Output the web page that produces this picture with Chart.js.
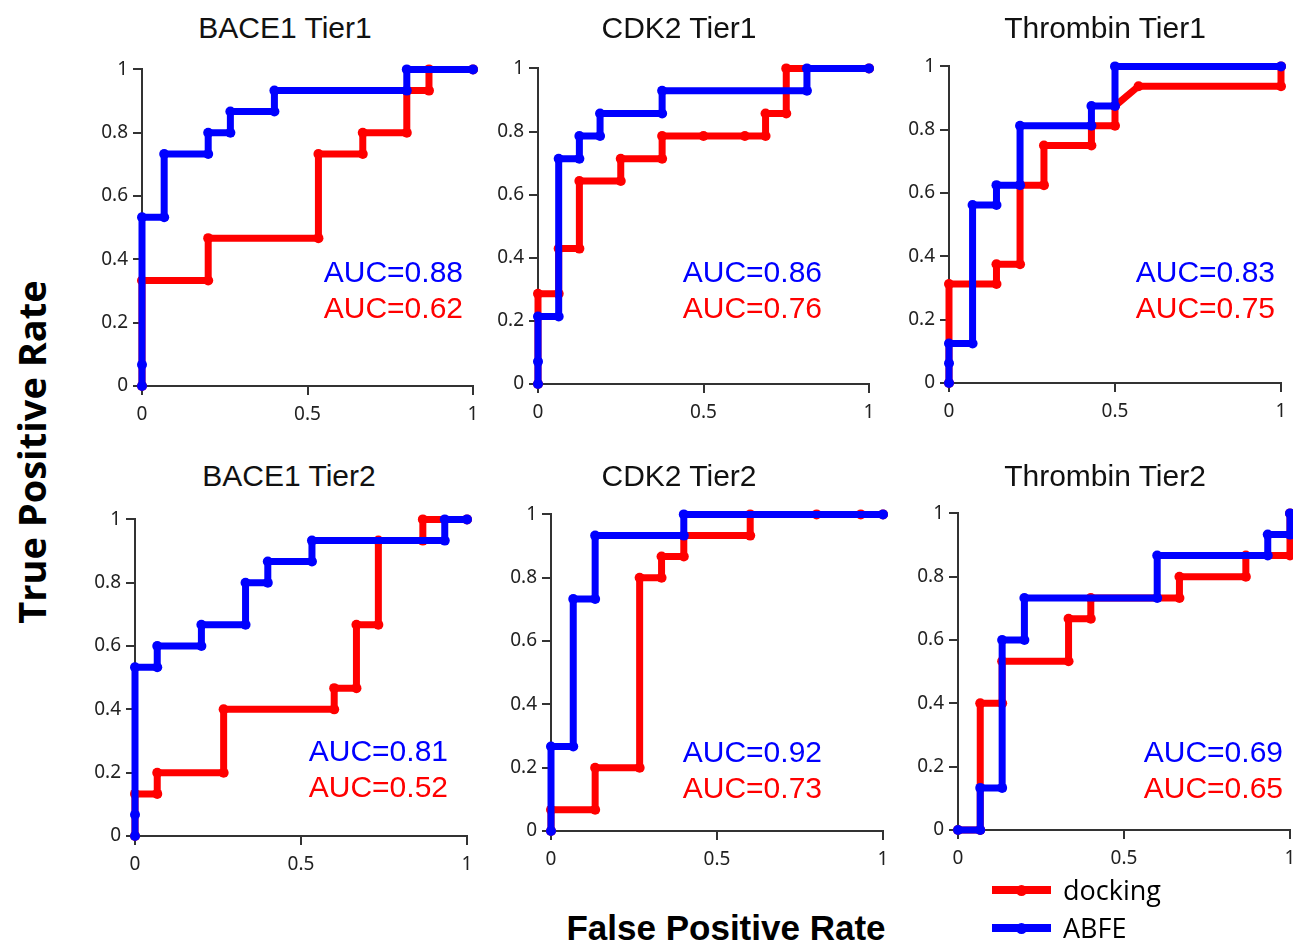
<!DOCTYPE html>
<html>
<head>
<meta charset="utf-8">
<script src="https://cdn.jsdelivr.net/npm/chart.js@4.4.0/dist/chart.umd.min.js"></script>
<style>
  body { margin: 0; background: #fff; overflow: hidden; }
  #page { position: relative; width: 1293px; height: 943px; overflow: hidden; }
  .panel { position: absolute; }
  .title { position: absolute; width: 300px; text-align: center; font: 30px/34px "Liberation Sans", Arial, sans-serif; color: #111; }
  .ytitle { position: absolute; width: 500px; height: 46px; text-align: center; font: bold 38px/46px "Open Sans", sans-serif; color: #000; transform: rotate(-90deg); }
  .xtitle { position: absolute; width: 500px; text-align: center; font: bold 35px/38px "Liberation Sans", Arial, sans-serif; color: #000; }
  .leg-line { position: absolute; height: 8px; width: 59px; }
  .leg-dot { position: absolute; width: 11px; height: 11px; border-radius: 50%; }
  .leg-text { position: absolute; font: 27px/27px "Open Sans", sans-serif; color: #000; }
</style>
</head>
<body>
<div id="page"></div>
<script>
// titres et AUC
const panelTitles = ["BACE1 Tier1", "CDK2 Tier1", "Thrombin Tier1", "BACE1 Tier2", "CDK2 Tier2", "Thrombin Tier2"];
const aucAbfe = ["0.88", "0.86", "0.83", "0.81", "0.92", "0.69"];
const aucDocking = ["0.62", "0.76", "0.75", "0.52", "0.73", "0.65"];
const xTicks = [0, 0.5, 1];
const yTicks = [0, 0.2, 0.4, 0.6, 0.8, 1];

// BACE1 Tier1
const bace1T1AbfeFpr = [0, 0, 0, 0.067, 0.067, 0.2, 0.2, 0.267, 0.267, 0.4, 0.4, 0.8, 0.8, 1];
const bace1T1AbfeTpr = [0, 0.067, 0.533, 0.533, 0.733, 0.733, 0.8, 0.8, 0.867, 0.867, 0.933, 0.933, 1, 1];
const bace1T1DockFpr = [0, 0, 0.2, 0.2, 0.533, 0.533, 0.667, 0.667, 0.8, 0.8, 0.867, 0.867, 1];
const bace1T1DockTpr = [0, 0.333, 0.333, 0.467, 0.467, 0.733, 0.733, 0.8, 0.8, 0.933, 0.933, 1, 1];

// CDK2 Tier1
const cdk2T1AbfeFpr = [0, 0, 0, 0.0625, 0.0625, 0.125, 0.125, 0.1875, 0.1875, 0.375, 0.375, 0.8125, 0.8125, 1];
const cdk2T1AbfeTpr = [0, 0.071, 0.214, 0.214, 0.714, 0.714, 0.786, 0.786, 0.857, 0.857, 0.929, 0.929, 1, 1];
const cdk2T1DockFpr = [0, 0, 0.0625, 0.0625, 0.125, 0.125, 0.25, 0.25, 0.375, 0.375, 0.5, 0.625, 0.6875, 0.6875, 0.75, 0.75, 1];
const cdk2T1DockTpr = [0, 0.286, 0.286, 0.429, 0.429, 0.643, 0.643, 0.714, 0.714, 0.786, 0.786, 0.786, 0.786, 0.857, 0.857, 1, 1];

// Thrombin Tier1
const thrT1AbfeFpr = [0, 0, 0, 0.071, 0.071, 0.143, 0.143, 0.214, 0.214, 0.429, 0.429, 0.5, 0.5, 1];
const thrT1AbfeTpr = [0, 0.0625, 0.125, 0.125, 0.5625, 0.5625, 0.625, 0.625, 0.8125, 0.8125, 0.875, 0.875, 1, 1];
const thrT1DockFpr = [0, 0, 0.143, 0.143, 0.214, 0.214, 0.286, 0.286, 0.429, 0.429, 0.5, 0.5, 0.571, 1, 1];
const thrT1DockTpr = [0, 0.3125, 0.3125, 0.375, 0.375, 0.625, 0.625, 0.75, 0.75, 0.8125, 0.8125, 0.875, 0.9375, 0.9375, 1];

// BACE1 Tier2
const bace1T2AbfeFpr = [0, 0, 0, 0.067, 0.067, 0.2, 0.2, 0.333, 0.333, 0.4, 0.4, 0.533, 0.533, 0.933, 0.933, 1];
const bace1T2AbfeTpr = [0, 0.067, 0.533, 0.533, 0.6, 0.6, 0.667, 0.667, 0.8, 0.8, 0.867, 0.867, 0.933, 0.933, 1, 1];
const bace1T2DockFpr = [0, 0, 0.067, 0.067, 0.267, 0.267, 0.6, 0.6, 0.667, 0.667, 0.733, 0.733, 0.867, 0.867, 1];
const bace1T2DockTpr = [0, 0.133, 0.133, 0.2, 0.2, 0.4, 0.4, 0.467, 0.467, 0.667, 0.667, 0.933, 0.933, 1, 1];

// CDK2 Tier2
const cdk2T2AbfeFpr = [0, 0, 0.067, 0.067, 0.133, 0.133, 0.4, 0.4, 1];
const cdk2T2AbfeTpr = [0, 0.267, 0.267, 0.733, 0.733, 0.933, 0.933, 1, 1];
const cdk2T2DockFpr = [0, 0, 0.133, 0.133, 0.267, 0.267, 0.333, 0.333, 0.4, 0.4, 0.6, 0.6, 0.8, 0.933, 1];
const cdk2T2DockTpr = [0, 0.067, 0.067, 0.2, 0.2, 0.8, 0.8, 0.867, 0.867, 0.933, 0.933, 1, 1, 1, 1];

// Thrombin Tier2
const thrT2AbfeFpr = [0, 0.067, 0.067, 0.133, 0.133, 0.2, 0.2, 0.6, 0.6, 0.933, 0.933, 1, 1];
const thrT2AbfeTpr = [0, 0, 0.133, 0.133, 0.6, 0.6, 0.733, 0.733, 0.867, 0.867, 0.933, 0.933, 1];
const thrT2DockFpr = [0, 0.067, 0.067, 0.133, 0.133, 0.333, 0.333, 0.4, 0.4, 0.667, 0.667, 0.867, 0.867, 1, 1];
const thrT2DockTpr = [0, 0, 0.4, 0.4, 0.533, 0.533, 0.667, 0.667, 0.733, 0.733, 0.8, 0.8, 0.867, 0.867, 1];

const abfeSeries = [
  [bace1T1AbfeFpr, bace1T1AbfeTpr], [cdk2T1AbfeFpr, cdk2T1AbfeTpr], [thrT1AbfeFpr, thrT1AbfeTpr],
  [bace1T2AbfeFpr, bace1T2AbfeTpr], [cdk2T2AbfeFpr, cdk2T2AbfeTpr], [thrT2AbfeFpr, thrT2AbfeTpr]
];
const dockSeries = [
  [bace1T1DockFpr, bace1T1DockTpr], [cdk2T1DockFpr, cdk2T1DockTpr], [thrT1DockFpr, thrT1DockTpr],
  [bace1T2DockFpr, bace1T2DockTpr], [cdk2T2DockFpr, cdk2T2DockTpr], [thrT2DockFpr, thrT2DockTpr]
];

// mise en page : zone de tracé de chaque panneau (gauche, droite, haut, bas)
const areas = [
  [142, 473, 68, 386], [538, 869, 67, 384], [949, 1281, 65, 383],
  [135, 467, 518, 836], [551, 883, 513, 831], [958, 1290, 512, 830]
];
const titleCenters = [[285, 28], [679, 28], [1105, 28], [289, 476], [679, 476], [1105, 476]];
// position du texte AUC : bord droit depuis la gauche du tracé, lignes de base depuis le bas
const aucPos = [[321, 104], [284, 102], [326, 101], [313, 75], [271, 69], [325, 68]];

const BLUE = "#0000ff", RED = "#ff0000";
const padL = 70, padT = 15, padR = 15, padB = 45;

const aucPlugin = {
  id: "auc",
  afterDatasetsDraw(chart, args, opts) {
    const ctx = chart.ctx, a = chart.chartArea;
    ctx.save();
    ctx.font = '30px "Liberation Sans", Arial, sans-serif';
    ctx.textAlign = "right";
    ctx.textBaseline = "alphabetic";
    ctx.fillStyle = BLUE;
    ctx.fillText("AUC=" + opts.abfe, a.left + opts.right, a.bottom - opts.base);
    ctx.fillStyle = RED;
    ctx.fillText("AUC=" + opts.dock, a.left + opts.right, a.bottom - opts.base + 36);
    ctx.restore();
  }
};

function toPoints(xs, ys) {
  return xs.map((x, i) => ({ x: x, y: ys[i] }));
}

function axis(ticks, isX) {
  return {
    type: "linear",
    min: 0,
    max: 1,
    afterFit: s => { if (isX) s.height = padB; else s.width = padL; },
    afterBuildTicks: s => { s.ticks = ticks.map(v => ({ value: v })); },
    grid: { drawOnChartArea: false, drawTicks: true, tickLength: 9, color: "#333", lineWidth: 2 },
    border: { display: true, color: "#333", width: 2 },
    ticks: {
      font: { family: "Noto Sans", size: 19 },
      color: "#222",
      padding: isX ? 8 : 5,
      maxRotation: 0,
      autoSkip: false,
      callback: v => String(v)
    }
  };
}

const page = document.getElementById("page");

areas.forEach((ar, i) => {
  const [L, R, T, B] = ar;
  const w = R - L + padL + padR, h = B - T + padT + padB;
  const div = document.createElement("div");
  div.className = "panel";
  div.style.left = (L - padL) + "px";
  div.style.top = (T - padT) + "px";
  const cv = document.createElement("canvas");
  cv.width = w; cv.height = h;
  cv.style.width = w + "px"; cv.style.height = h + "px";
  div.appendChild(cv);
  page.appendChild(div);

  const t = document.createElement("div");
  t.className = "title";
  t.textContent = panelTitles[i];
  t.style.left = (titleCenters[i][0] - 150) + "px";
  t.style.top = (titleCenters[i][1] - 17) + "px";
  page.appendChild(t);

  new Chart(cv, {
    type: "scatter",
    data: {
      datasets: [
        {
          label: "ABFE",
          data: toPoints(abfeSeries[i][0], abfeSeries[i][1]),
          borderColor: BLUE, backgroundColor: BLUE,
          showLine: true, borderWidth: 7, pointRadius: 5, pointBorderWidth: 0,
          clip: false, order: 0
        },
        {
          label: "docking",
          data: toPoints(dockSeries[i][0], dockSeries[i][1]),
          borderColor: RED, backgroundColor: RED,
          showLine: true, borderWidth: 7, pointRadius: 5, pointBorderWidth: 0,
          clip: false, order: 1
        }
      ]
    },
    options: {
      responsive: false,
      animation: false,
      layout: { padding: { left: 0, top: padT, right: padR, bottom: 0 } },
      plugins: {
        legend: { display: false },
        tooltip: { enabled: false },
        auc: { abfe: aucAbfe[i], dock: aucDocking[i], right: aucPos[i][0], base: aucPos[i][1] }
      },
      scales: { x: axis(xTicks, true), y: axis(yTicks, false) }
    },
    plugins: [aucPlugin]
  });
});

// titres des axes
const yt = document.createElement("div");
yt.className = "ytitle";
yt.textContent = "True Positive Rate";
yt.style.left = (31 - 250) + "px";
yt.style.top = (452 - 23) + "px";
page.appendChild(yt);

const xt = document.createElement("div");
xt.className = "xtitle";
xt.textContent = "False Positive Rate";
xt.style.left = (726 - 250) + "px";
xt.style.top = "909px";
page.appendChild(xt);

// légende
[["docking", RED, 890], ["ABFE", BLUE, 928]].forEach(([name, col, cy]) => {
  const ln = document.createElement("div");
  ln.className = "leg-line";
  ln.style.background = col;
  ln.style.left = "992px";
  ln.style.top = (cy - 4) + "px";
  page.appendChild(ln);
  const dot = document.createElement("div");
  dot.className = "leg-dot";
  dot.style.background = col;
  dot.style.left = "1016px";
  dot.style.top = (cy - 5.5) + "px";
  page.appendChild(dot);
  const tx = document.createElement("div");
  tx.className = "leg-text";
  tx.textContent = name;
  tx.style.left = "1063px";
  tx.style.top = (cy - 14) + "px";
  page.appendChild(tx);
});
</script>
</body>
</html>
